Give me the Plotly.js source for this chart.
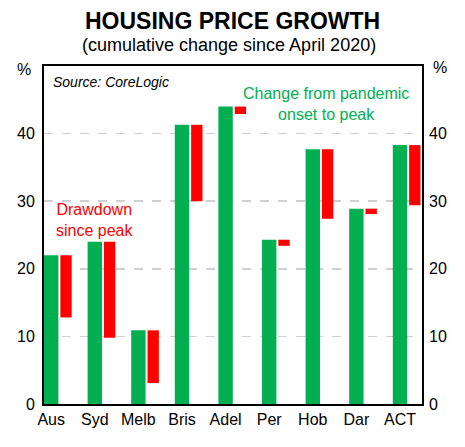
<!DOCTYPE html>
<html>
<head>
<meta charset="utf-8">
<script src="https://cdn.plot.ly/plotly-3.0.1.min.js"></script>
<style>
  body { margin: 0; background: #fff; }
  #chart { width: 465px; height: 447px; }
</style>
</head>
<body>
<div id="chart"></div>
<script>
var cities = ["Aus", "Syd", "Melb", "Bris", "Adel", "Per", "Hob", "Dar", "ACT"];
// cumulative growth from April 2020 to the peak (%)
var peak = [22.0, 24.0, 10.9, 41.3, 44.0, 24.3, 37.7, 28.9, 38.3];
// cumulative growth now, i.e. bottom of the drawdown (%)
var current = [12.8, 9.8, 3.1, 30.0, 42.9, 23.4, 27.4, 28.1, 29.4];

var drawdown = peak.map(function (p, i) { return p - current[i]; });
var xs = cities.map(function (c, i) { return i; });

var green = "#00b050";
var red = "#ff0000";
var font = "Arial, 'Liberation Sans', sans-serif";

var peakBars = {
  type: "bar",
  x: xs,
  y: peak,
  width: 0.33,
  offset: -0.165,
  marker: { color: green, line: { width: 0 } },
  hoverinfo: "skip"
};

var dropBars = {
  type: "bar",
  x: xs,
  y: drawdown,
  base: current,
  width: 0.26,
  offset: 0.21,
  marker: { color: red, line: { width: 0 } },
  hoverinfo: "skip"
};

// dummy trace so the right axis is drawn
var right = {
  type: "scatter",
  x: [0],
  y: [0],
  yaxis: "y2",
  mode: "none",
  hoverinfo: "skip"
};

// pixel helpers for the plot box (l=44, t=66, w=378, h=338)
function px(x) { return (x - 44) / 378; }
function py(y) { return (404 - y) / 338; }

var layout = {
  width: 465,
  height: 447,
  margin: { l: 44, r: 43, t: 66, b: 43 },
  paper_bgcolor: "#fff",
  plot_bgcolor: "#fff",
  showlegend: false,
  barmode: "overlay",
  font: { family: font, size: 16, color: "#000" },
  xaxis: {
    range: [-0.165, 8.505],
    tickvals: xs,
    ticktext: cities,
    ticks: "",
    showgrid: false,
    zeroline: false,
    showline: true,
    linecolor: "#000",
    linewidth: 2,
    mirror: true,
    tickfont: { size: 16 }
  },
  yaxis: {
    range: [0, 50],
    tickvals: [0, 10, 20, 30, 40],
    ticks: "",
    showgrid: true,
    gridcolor: "#d0d0d0",
    griddash: "dash",
    gridwidth: 1.5,
    zeroline: false,
    showline: true,
    linecolor: "#000",
    linewidth: 2,
    mirror: true,
    ticklabelstandoff: 4,
    tickfont: { size: 16 }
  },
  yaxis2: {
    overlaying: "y",
    side: "right",
    range: [0, 50],
    tickvals: [0, 10, 20, 30, 40],
    ticks: "",
    showgrid: false,
    zeroline: false,
    showline: false,
    ticklabelstandoff: 6,
    tickfont: { size: 16 }
  },
  annotations: [
    { xref: "paper", yref: "paper", x: px(232), y: py(21), xanchor: "center", yanchor: "middle",
      text: "<b>HOUSING PRICE GROWTH</b>", showarrow: false, font: { size: 23 } },
    { xref: "paper", yref: "paper", x: px(229), y: py(45), xanchor: "center", yanchor: "middle",
      text: "(cumulative change since April 2020)", showarrow: false, font: { size: 18 } },
    { xref: "paper", yref: "paper", x: px(24), y: py(69), xanchor: "center", yanchor: "middle",
      text: "%", showarrow: false, font: { size: 16 } },
    { xref: "paper", yref: "paper", x: px(440), y: py(67), xanchor: "center", yanchor: "middle",
      text: "%", showarrow: false, font: { size: 16 } },
    { xref: "paper", yref: "paper", x: px(51), y: py(82), xanchor: "left", yanchor: "middle",
      text: "<i>Source: CoreLogic</i>", showarrow: false, font: { size: 14 } },
    { xref: "paper", yref: "paper", x: px(94), y: py(220), xanchor: "center", yanchor: "middle",
      text: "Drawdown<br>since peak", showarrow: false, font: { size: 16, color: red } },
    { xref: "paper", yref: "paper", x: px(326), y: py(104), xanchor: "center", yanchor: "middle",
      text: "Change from pandemic<br>onset to peak", showarrow: false, font: { size: 16, color: green } }
  ]
};

Plotly.newPlot("chart", [peakBars, dropBars, right], layout, { staticPlot: true, displayModeBar: false });
</script>
</body>
</html>
